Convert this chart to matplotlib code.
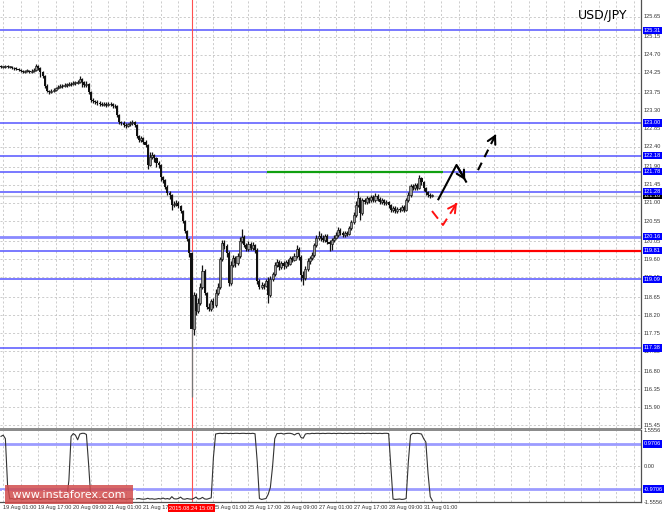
import matplotlib
matplotlib.use('Agg')
import matplotlib.pyplot as plt
import matplotlib.transforms as mtransforms
from matplotlib.patches import Rectangle
import numpy as np

# ---------------- data ----------------
first_open = 124.42
close = [
124.40,124.40,124.42,124.40,124.40,124.37,124.37,124.35,124.32,124.30,
124.27,124.30,124.30,124.27,124.30,124.32,124.42,124.37,124.27,124.17,
123.92,123.80,123.77,123.80,123.82,123.87,123.90,123.92,123.92,123.95,
123.95,123.97,123.97,124.00,124.00,124.02,124.10,124.02,123.95,123.97,
123.77,123.57,123.55,123.52,123.50,123.47,123.45,123.47,123.45,123.47,
123.47,123.42,123.42,123.20,123.02,123.00,122.95,122.92,122.97,123.00,
123.02,122.95,122.67,122.57,122.62,122.52,122.45,121.95,122.15,122.20,
122.12,122.00,121.95,121.65,121.57,121.40,121.25,121.20,120.95,120.98,
121.00,120.93,120.80,120.55,120.30,120.10,119.75,117.85,118.70,118.30,
118.50,118.90,119.30,118.75,118.40,118.35,118.55,118.45,118.75,118.90,
119.60,120.00,119.92,119.75,119.00,119.45,119.62,119.50,119.68,120.05,
120.15,119.95,119.85,119.98,119.88,119.95,119.82,119.05,118.90,118.95,
118.92,119.05,118.70,119.10,119.22,119.45,119.52,119.40,119.50,119.42,
119.52,119.48,119.62,119.58,119.68,119.85,119.65,119.20,119.12,119.35,
119.55,119.62,119.70,119.95,120.13,120.18,120.13,120.08,120.18,120.03,
119.98,120.08,120.13,120.20,120.33,120.25,120.20,120.25,120.23,120.38,
120.53,120.70,120.95,121.12,120.75,121.07,121.02,121.12,121.07,121.15,
121.07,121.18,121.10,121.02,121.07,121.00,121.02,120.95,120.83,120.88,
120.80,120.85,120.83,120.90,120.83,121.07,121.20,121.42,121.37,121.45,
121.37,121.62,121.52,121.37,121.27,121.20,121.18,121.18]

high = [
124.45,124.43,124.45,124.44,124.43,124.41,124.40,124.39,124.37,124.35,
124.33,124.33,124.34,124.32,124.34,124.38,124.48,124.45,124.40,124.30,
124.20,123.96,123.83,123.84,123.86,123.90,123.94,123.96,123.96,123.99,
123.99,124.01,124.02,124.04,124.05,124.08,124.16,124.12,124.05,124.04,
124.00,123.80,123.62,123.58,123.56,123.54,123.51,123.52,123.51,123.52,
123.52,123.50,123.47,123.45,123.23,123.06,123.04,122.99,123.01,123.04,
123.07,123.05,122.98,122.70,122.67,122.65,122.58,122.48,122.27,122.27,
122.22,122.15,122.05,121.98,121.68,121.60,121.45,121.30,121.22,121.05,
121.07,121.05,120.95,120.82,120.58,120.32,120.12,119.80,118.78,118.75,
118.62,119.00,119.45,119.35,118.78,118.50,118.60,118.62,118.85,119.00,
119.65,120.08,120.08,119.97,119.80,119.55,119.70,119.68,119.75,120.15,
120.35,120.20,120.00,120.05,120.03,120.02,119.98,119.88,119.10,119.02,
119.00,119.10,119.15,119.18,119.28,119.52,119.60,119.58,119.55,119.56,
119.58,119.60,119.67,119.68,119.75,119.95,119.90,119.70,119.30,119.42,
119.62,119.68,119.78,120.00,120.20,120.30,120.25,120.20,120.23,120.22,
120.08,120.12,120.20,120.28,120.40,120.38,120.30,120.30,120.30,120.42,
120.58,120.78,121.05,121.30,121.15,121.12,121.12,121.17,121.15,121.20,
121.20,121.25,121.22,121.15,121.12,121.10,121.08,121.05,120.98,120.93,
120.92,120.90,120.90,120.95,120.95,121.12,121.28,121.48,121.47,121.50,
121.50,121.70,121.65,121.55,121.40,121.30,121.25,121.22]

low = [
124.37,124.37,124.38,124.37,124.36,124.34,124.33,124.31,124.29,124.27,
124.24,124.25,124.26,124.24,124.25,124.28,124.30,124.33,124.15,124.12,
123.88,123.76,123.73,123.74,123.77,123.79,123.84,123.86,123.88,123.89,
123.90,123.92,123.93,123.94,123.95,123.97,124.00,123.90,123.90,123.90,
123.72,123.52,123.50,123.47,123.45,123.43,123.41,123.41,123.40,123.42,
123.42,123.38,123.37,123.15,122.97,122.95,122.90,122.87,122.89,122.93,
122.96,122.90,122.62,122.52,122.53,122.47,122.40,121.85,121.92,122.10,
122.02,121.90,121.88,121.55,121.50,121.35,121.20,121.10,120.82,120.90,
120.92,120.88,120.75,120.50,120.25,120.05,119.65,116.15,117.70,118.20,
118.25,118.45,118.85,118.70,118.35,118.30,118.30,118.38,118.40,118.70,
118.85,119.55,119.85,119.65,118.92,118.95,119.40,119.40,119.45,119.62,
120.00,119.90,119.80,119.80,119.82,119.83,119.75,118.98,118.85,118.85,
118.86,118.90,118.50,118.65,119.05,119.18,119.40,119.32,119.35,119.36,
119.38,119.42,119.45,119.52,119.55,119.62,119.58,119.05,118.95,119.08,
119.30,119.48,119.58,119.65,119.90,120.08,120.05,120.02,120.03,119.98,
119.80,119.82,120.02,120.10,120.15,120.20,120.15,120.15,120.18,120.20,
120.33,120.48,120.65,120.90,120.58,120.70,120.97,120.98,121.00,121.02,
121.02,121.03,121.05,120.97,120.98,120.95,120.95,120.88,120.78,120.78,
120.75,120.76,120.77,120.79,120.78,120.80,121.02,121.15,121.32,121.33,
121.32,121.35,121.45,121.30,121.20,121.15,121.12,121.15]

indicator = [
1.30,1.35,1.20,-0.80,-1.40,-1.38,-1.41,-1.40,-1.37,-1.40,
-1.42,-1.39,-1.40,-1.38,-1.41,-1.40,-1.36,-1.40,-1.42,-1.39,
-1.40,-1.38,-1.41,-1.40,-1.37,-1.40,-1.39,-1.41,-1.40,-1.38,
-1.40,-0.60,1.30,1.42,1.35,1.15,1.40,1.43,1.43,1.38,
0.10,-1.35,-1.40,-1.38,-1.41,-1.40,-1.37,-1.40,-1.42,-1.39,
-1.40,-1.38,-1.41,-1.40,-1.36,-1.40,-1.39,-1.41,-1.40,-1.38,
-1.40,-1.42,-1.39,-1.38,-1.40,-1.41,-1.40,-1.37,-1.40,-1.39,
-1.41,-1.40,-1.38,-1.40,-1.36,-1.40,-1.38,-1.41,-1.30,-1.39,
-1.40,-1.38,-1.32,-1.40,-1.41,-1.38,-1.40,-1.41,-1.38,-1.32,
-1.40,-1.39,-1.33,-1.40,-1.41,-1.38,-1.35,0.40,1.40,1.42,
1.43,1.42,1.43,1.43,1.42,1.43,1.42,1.43,1.43,1.42,
1.43,1.43,1.42,1.43,1.42,1.43,1.41,0.20,-1.38,-1.42,
-1.40,-1.38,-1.20,-0.90,0.00,1.20,1.42,1.42,1.43,1.40,
1.42,1.43,1.43,1.41,1.36,1.42,1.43,1.25,1.22,1.40,
1.42,1.41,1.43,1.42,1.43,1.43,1.42,1.43,1.42,1.43,
1.43,1.42,1.43,1.42,1.43,1.43,1.42,1.43,1.42,1.43,
1.43,1.42,1.43,1.43,1.42,1.43,1.42,1.43,1.43,1.42,
1.43,1.43,1.42,1.43,1.42,1.43,1.43,1.42,0.00,-1.40,
-1.42,-1.41,-1.40,-1.42,-1.41,-1.38,0.20,1.35,1.43,1.42,
1.43,1.42,1.40,1.20,1.05,-0.30,-1.30,-1.48]

price_ticks = [125.65, 125.15, 124.70, 124.25, 123.75, 123.30, 122.85, 122.40,
               121.90, 121.45, 121.00, 120.55, 120.05, 119.60, 119.15, 118.65,
               118.20, 117.75, 117.30, 116.80, 116.35, 115.90, 115.45]
levels = [125.31, 123.00, 122.18, 121.78, 121.28, 120.16, 119.81, 119.09, 117.38]
current_price = 121.18
ind_levels = [0.9706, -0.9706]
ind_ticks = [1.5556, 0.00, -1.5556]

time_label_bars = [1, 17, 33, 49, 65, 97, 113, 129, 145, 161, 177, 193]
time_labels = ['19 Aug 01:00', '19 Aug 17:00', '20 Aug 09:00', '21 Aug 01:00',
               '21 Aug 17:00', '25 Aug 01:00', '25 Aug 17:00', '26 Aug 09:00',
               '27 Aug 01:00', '27 Aug 17:00', '28 Aug 09:00', '31 Aug 01:00']
cursor_bar = 87
cursor_label = '2015.08.24 15:00'

green_level = 121.78
green_span = [121.5, 201.8]
red_level = 119.81
red_start = 177.6

black_solid_x = [199.5, 208.0, 212.6]
black_solid_y = [121.07, 121.95, 121.51]
black_dash_x = [217.8, 226.0]
black_dash_y = [121.82, 122.72]
red_dash_x = [196.8, 201.8, 208.2]
red_dash_y = [120.80, 120.45, 121.00]

# ---------------- figure ----------------
W, H = 664, 514
fig = plt.figure(figsize=(W / 100, H / 100), dpi=100)
fig.patch.set_facecolor('white')
SMALL = ['Liberation Sans', 'DejaVu Sans']
FS = 4.1


def rect(x0, y0, x1, y1):
    return [x0 / W, 1 - y1 / H, (x1 - x0) / W, (y1 - y0) / H]


ax = fig.add_axes(rect(0, 0, 641, 428))
axi = fig.add_axes(rect(0, 430, 641, 502))
XMIN, XMAX = (0 - 1) / 2.19, (641 - 1) / 2.19
for a in (ax, axi):
    a.set_xlim(XMIN, XMAX)
    a.set_xticks([])
    a.set_yticks([])
    for s in ('left', 'top'):
        a.spines[s].set_visible(False)
    a.spines['right'].set_color('#505050')
    a.spines['right'].set_linewidth(0.9)
ax.spines['bottom'].set_visible(False)
axi.spines['bottom'].set_color('#505050')
axi.spines['bottom'].set_linewidth(0.9)
ax.set_ylim(115.38, 126.07)
axi.set_ylim(-1.530, 1.573)

grid_kw = dict(color='#c4c4c4', lw=0.6, dashes=(2.5, 2.5), zorder=0)
gx = np.arange(1, 293, 8)
for g in gx:
    ax.axvline(g, **grid_kw)
    axi.axvline(g, **grid_kw)
for t in price_ticks:
    ax.axhline(t, **grid_kw)
axi.axhline(0.0, **grid_kw)

# levels
for lv in levels:
    lw = 2.0 if lv == 120.16 else 1.1
    col = '#8a8aff' if lv == 120.16 else '#5555ff'
    ax.axhline(lv, color=col, lw=lw, zorder=1)
ax.axhline(current_price, color='#c8c8c8', lw=1.0, zorder=1)
for lv in ind_levels:
    axi.axhline(lv, color='#9c9cff', lw=2.0, zorder=1)

ax.hlines(green_level, green_span[0], green_span[1], color='#10a010', lw=1.6, zorder=3)
ax.hlines(red_level, red_start, XMAX, color='#ff0000', lw=1.6, zorder=3)

# cursor
ax.axvline(cursor_bar, color='#ff5050', lw=0.8, zorder=2)
axi.axvline(cursor_bar, color='#ff5050', lw=0.8, zorder=2)

# candles
c = np.array(close)
o = np.array([first_open] + close[:-1])
h = np.array(high)
l = np.array(low)
idx = np.arange(len(c))
wick_col = np.where(l < 117.0, '#777777', '#111111')
ax.vlines(idx, l, h, colors=list(wick_col), lw=0.9, zorder=4)
up = c >= o
ax.bar(idx[up], np.maximum(c[up] - o[up], 0.01), bottom=o[up], width=0.95,
       facecolor='#9a9a9a', edgecolor='#111111', lw=0.45, zorder=5)
ax.bar(idx[~up], np.maximum(o[~up] - c[~up], 0.01), bottom=c[~up], width=0.95,
       color='#111111', lw=0, zorder=5)

# indicator
axi.plot(idx, indicator, color='#333333', lw=0.8, zorder=4)

# forecast arrows
ax.plot(black_solid_x, black_solid_y, color='black', lw=1.5, zorder=6, solid_capstyle='butt')
ax.annotate('', xy=(black_solid_x[-1], black_solid_y[-1]),
            xytext=(black_solid_x[-2], black_solid_y[-2]),
            arrowprops=dict(arrowstyle='->,head_length=0.55,head_width=0.3', color='black', lw=1.5))
ax.plot(black_dash_x, black_dash_y, color='black', lw=1.5, dashes=(4, 3), zorder=6)
ax.annotate('', xy=(black_dash_x[-1], black_dash_y[-1]),
            xytext=(black_dash_x[-1] - 1.0, black_dash_y[-1] - 0.11),
            arrowprops=dict(arrowstyle='->,head_length=0.55,head_width=0.3', color='black', lw=1.5))
ax.plot(red_dash_x, red_dash_y, color='#ff1010', lw=1.4, dashes=(5, 3), zorder=6)
ax.annotate('', xy=(red_dash_x[-1], red_dash_y[-1]),
            xytext=(red_dash_x[-1] - 1.0, red_dash_y[-1] - 0.08),
            arrowprops=dict(arrowstyle='->,head_length=0.55,head_width=0.3', color='#ff1010', lw=1.4))

# right-hand labels
tr = mtransforms.blended_transform_factory(ax.transAxes, ax.transData)
tri = mtransforms.blended_transform_factory(axi.transAxes, axi.transData)
lx = 644 / 641
for t in price_ticks:
    ax.text(lx, t, f'{t:.2f}', transform=tr, fontsize=FS, family=SMALL,
            color='#333333', va='center', ha='left', clip_on=False)
for lv in levels:
    ax.text(lx, lv, f'{lv:.2f}', transform=tr, fontsize=FS, family=SMALL,
            color='white', va='center', ha='left', clip_on=False, zorder=10,
            bbox=dict(boxstyle='square,pad=0.2', fc='#0000ff', ec='none'))
ax.text(lx, current_price, f'{current_price:.2f}', transform=tr, fontsize=FS, family=SMALL,
        color='white', va='center', ha='left', clip_on=False, zorder=9,
        bbox=dict(boxstyle='square,pad=0.2', fc='black', ec='none'))
for t in ind_ticks:
    axi.text(lx, t, f'{t:.4f}' if t != 0 else '0.00', transform=tri, fontsize=FS, family=SMALL,
             color='#333333', va='center', ha='left', clip_on=False)
for lv in ind_levels:
    axi.text(lx, lv, f'{lv:.4f}', transform=tri, fontsize=FS, family=SMALL,
             color='white', va='center', ha='left', clip_on=False, zorder=10,
             bbox=dict(boxstyle='square,pad=0.2', fc='#0000ff', ec='none'))

# separator between panels
fig.add_artist(Rectangle((0, 1 - 430.5 / H), 641 / W, 3 / H, transform=fig.transFigure,
                         color='#8c8c8c', lw=0))

# time labels
for b, s in zip(time_label_bars, time_labels):
    fig.text((1 + 2.19 * b) / W, 1 - 508 / H, s, fontsize=FS, family=SMALL,
             color='#333333', va='center', ha='left')
fig.text((1 + 2.19 * cursor_bar) / W, 1 - 508 / H, cursor_label, fontsize=FS, family=SMALL,
         color='white', va='center', ha='center',
         bbox=dict(boxstyle='square,pad=0.25', fc='#ff0000', ec='none'))

# title
fig.text(578 / W, 1 - 15 / H, 'USD/JPY', fontsize=9, color='black', va='center', ha='left')

# watermark
fig.add_artist(Rectangle((5 / W, 1 - 504 / H), 128 / W, 19 / H, transform=fig.transFigure,
                         color='#d24c4c', alpha=0.85, lw=0, zorder=20))
fig.text(69 / W, 1 - 494.5 / H, '[  www.instaforex.com  ]', fontsize=8, color='white',
         va='center', ha='center', zorder=21)

fig.savefig('out.png', dpi=100)
